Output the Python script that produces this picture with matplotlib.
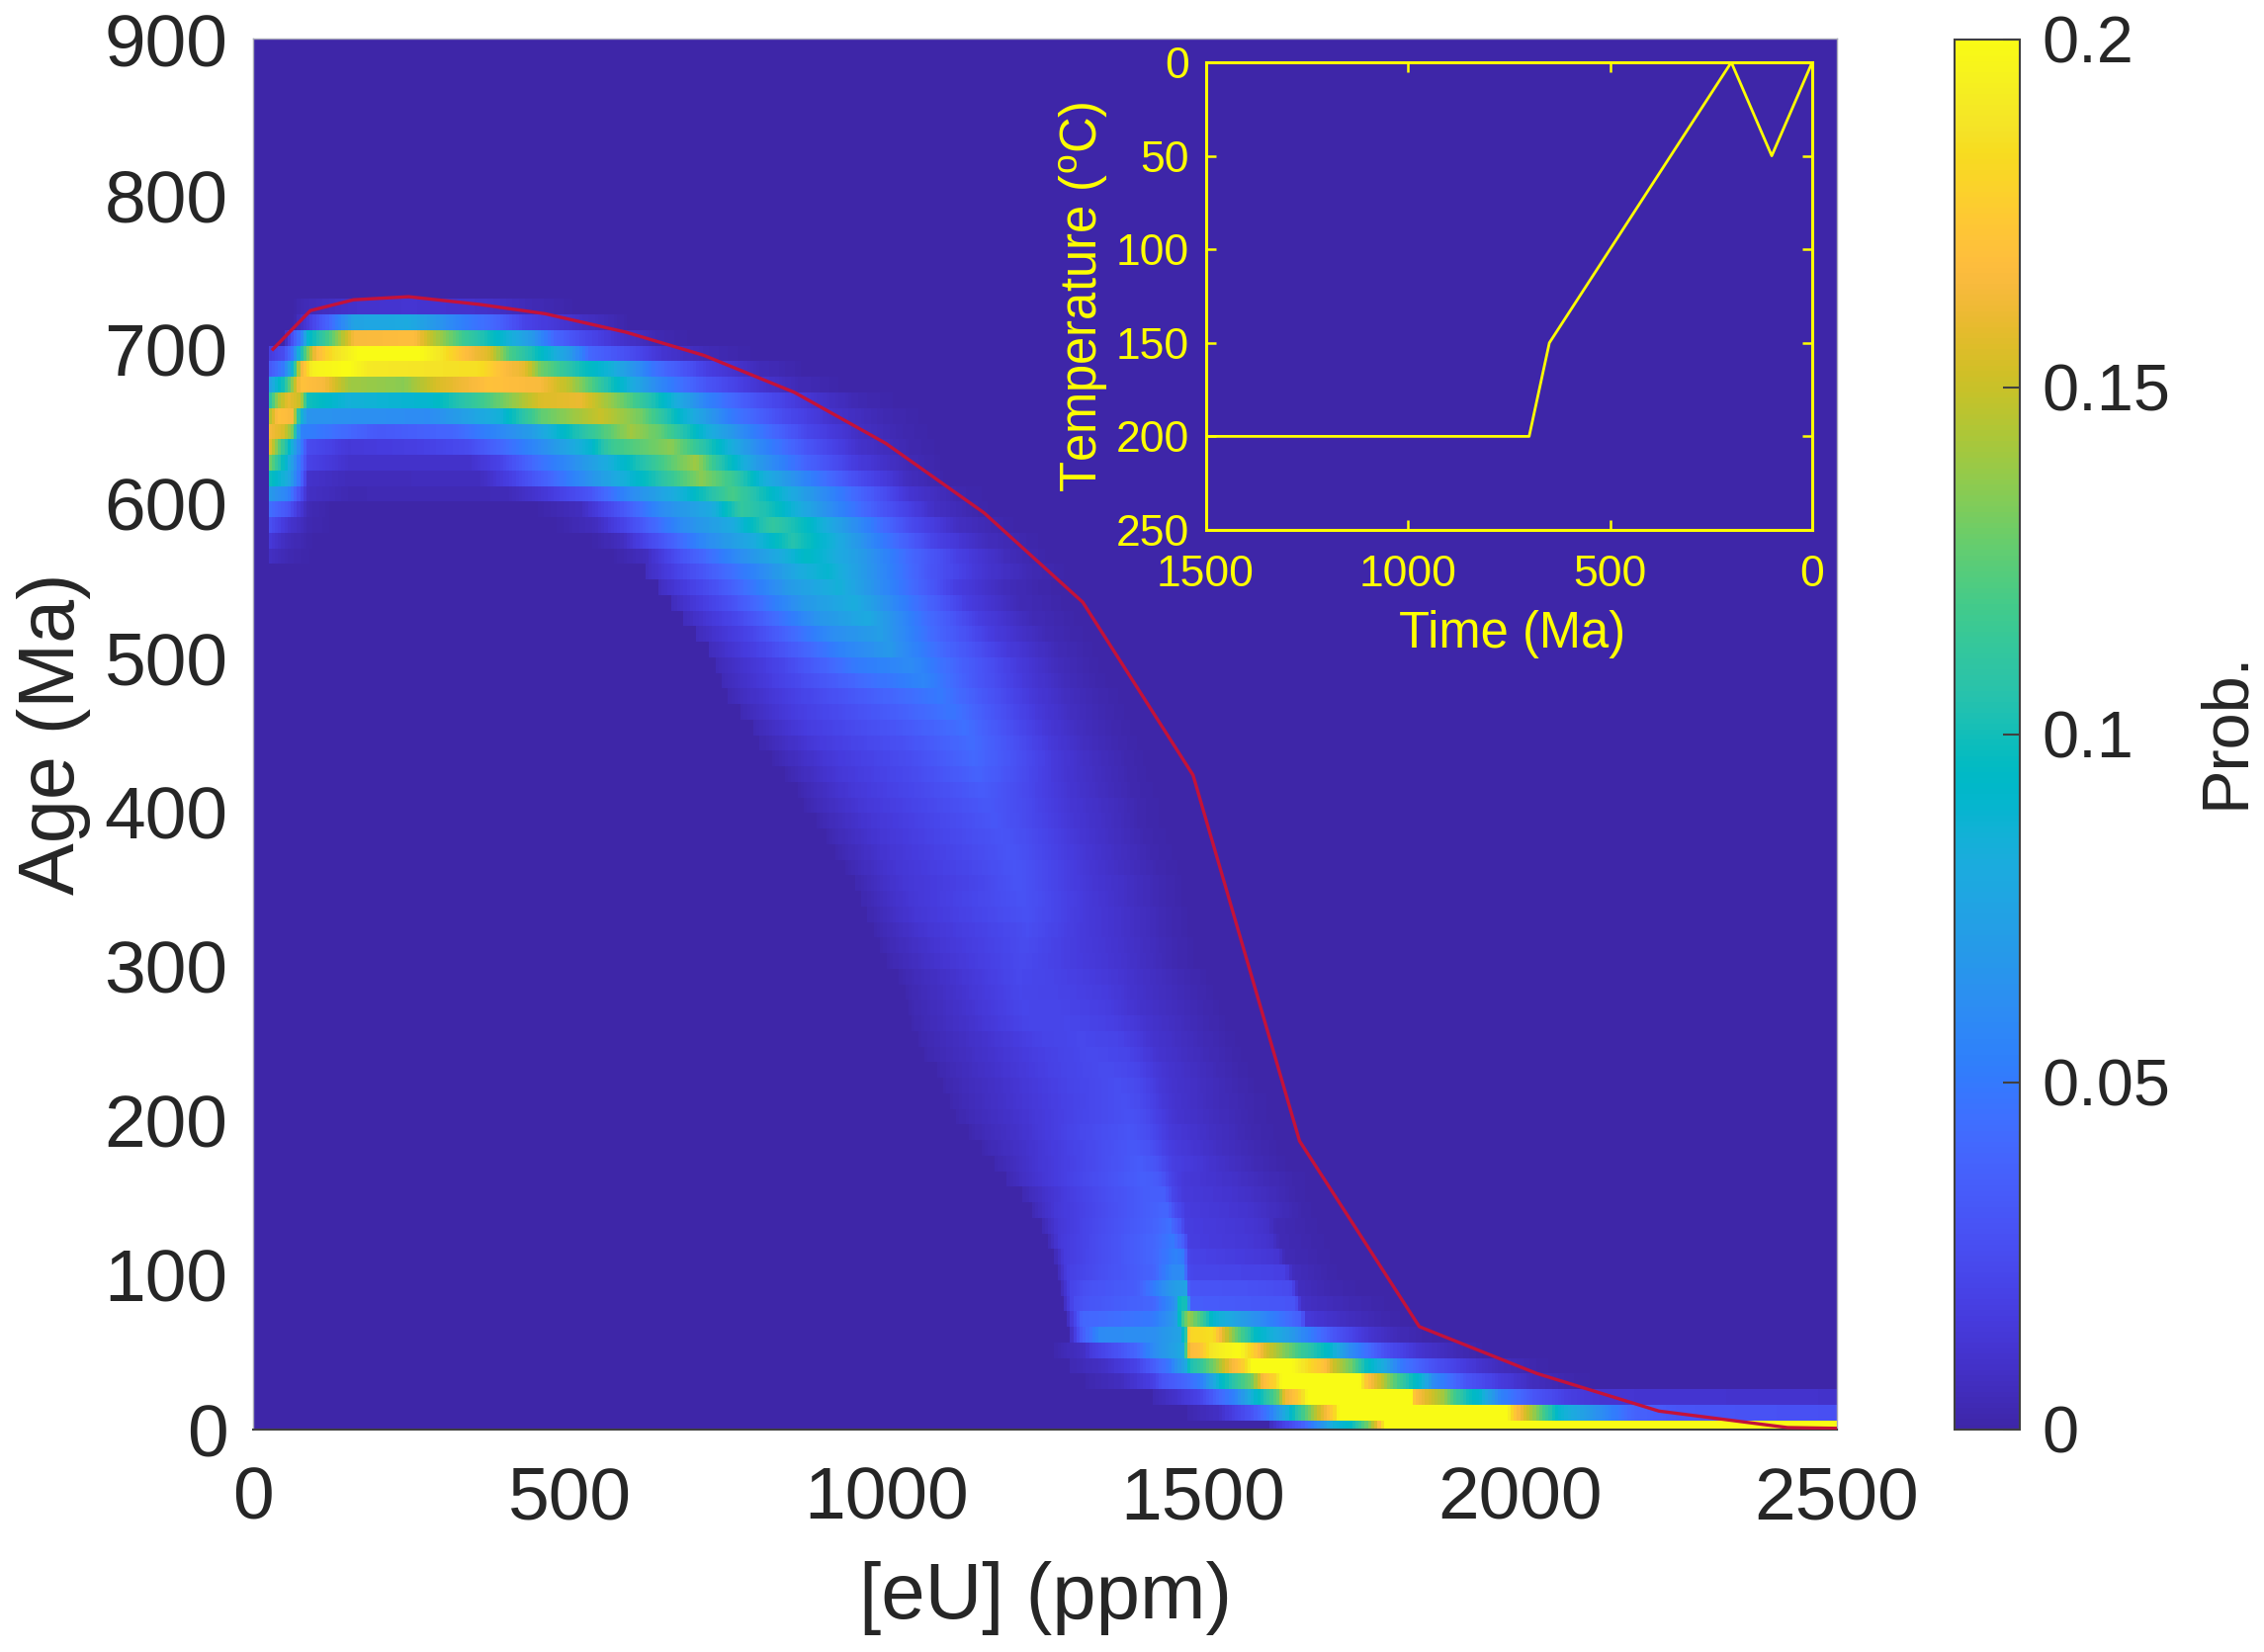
import numpy as np
import matplotlib
matplotlib.use("Agg")
import matplotlib.pyplot as plt
from matplotlib.colors import LinearSegmentedColormap

W, H = 2290, 1671
plt.rcParams['font.family'] = ['Liberation Sans', 'DejaVu Sans']
plt.rcParams['mathtext.fontset'] = 'custom'
plt.rcParams['mathtext.rm'] = 'Liberation Sans'
plt.rcParams['mathtext.default'] = 'regular'

parula = LinearSegmentedColormap.from_list('parula', [
 (0.2422,0.1504,0.6603),(0.2504,0.1650,0.7076),(0.2578,0.1818,0.7511),(0.2647,0.1978,0.7952),
 (0.2706,0.2147,0.8364),(0.2751,0.2342,0.8710),(0.2783,0.2559,0.8991),(0.2803,0.2782,0.9221),
 (0.2813,0.3006,0.9414),(0.2810,0.3228,0.9579),(0.2795,0.3447,0.9717),(0.2760,0.3667,0.9829),
 (0.2699,0.3892,0.9906),(0.2602,0.4123,0.9952),(0.2440,0.4358,0.9988),(0.2206,0.4603,0.9973),
 (0.1963,0.4847,0.9892),(0.1834,0.5074,0.9798),(0.1786,0.5289,0.9682),(0.1764,0.5499,0.9520),
 (0.1687,0.5703,0.9359),(0.1540,0.5902,0.9218),(0.1460,0.6091,0.9079),(0.1380,0.6276,0.8973),
 (0.1248,0.6459,0.8883),(0.1113,0.6635,0.8763),(0.0952,0.6798,0.8598),(0.0689,0.6948,0.8394),
 (0.0297,0.7082,0.8163),(0.0036,0.7203,0.7917),(0.0067,0.7312,0.7660),(0.0433,0.7411,0.7394),
 (0.0964,0.7500,0.7120),(0.1408,0.7584,0.6842),(0.1717,0.7670,0.6554),(0.1938,0.7758,0.6251),
 (0.2161,0.7843,0.5923),(0.2470,0.7918,0.5567),(0.2906,0.7973,0.5188),(0.3406,0.8008,0.4789),
 (0.3909,0.8029,0.4354),(0.4456,0.8024,0.3909),(0.5044,0.7993,0.3480),(0.5616,0.7942,0.3045),
 (0.6174,0.7876,0.2612),(0.6720,0.7793,0.2227),(0.7242,0.7698,0.1910),(0.7738,0.7598,0.1646),
 (0.8203,0.7498,0.1535),(0.8634,0.7406,0.1596),(0.9035,0.7330,0.1774),(0.9393,0.7288,0.2100),
 (0.9728,0.7298,0.2394),(0.9956,0.7434,0.2371),(0.9970,0.7659,0.2199),(0.9952,0.7861,0.1990),
 (0.9892,0.8134,0.1760),(0.9786,0.8386,0.1492),(0.9676,0.8639,0.1240),(0.9610,0.8890,0.1537),
 (0.9597,0.9135,0.1423),(0.9628,0.9373,0.1265),(0.9691,0.9606,0.1064),(0.9769,0.9839,0.0805)], N=256)

r000=[1603,.005,1655,.035,1707,.085,1733,.095,1759,.13,1775,.16,1790,.21,2500,.21]
r010=[1473,.002,1525,.008,1577,.03,1603,.05,1629,.08,1655,.115,1681,.15,1707,.18,1717,.21,1975,.21,1990,.175,2020,.14,2040,.115,2060,.09,2130,.06,2180,.038,2250,.03,2500,.027]
r020=[1421,.003,1457,.01,1494,.02,1525,.04,1551,.055,1577,.085,1603,.11,1619,.13,1629,.16,1650,.175,1660,.19,1668,.21,1826,.21,1833,.17,1863,.15,1879,.14,1895,.12,1916,.1,1937,.09,1969,.055,2022,.03,2075,.018,2127,.012,2500,.01]
r030=[1317,.002,1369,.006,1421,.018,1437,.03,1473,.04,1499,.055,1525,.09,1551,.11,1577,.13,1593,.165,1613,.18,1624,.2,1629,.21,1743,.21,1759,.17,1780,.15,1801,.125,1827,.1,1847,.085,1863,.06,1889,.045,1916,.03,1969,.016,2022,.006,2075,.002,2130,0]
r040=[1291,.003,1343,.008,1395,.02,1421,.035,1447,.05,1473,.08,1478,.1,1499,.115,1520,.135,1541,.16,1561,.175,1577,.2,1629,.21,1640,.2,1655,.19,1671,.18,1691,.17,1707,.15,1733,.13,1759,.095,1785,.08,1811,.05,1863,.028,1916,.015,1941,.01,1969,.006,2030,.001,2100,0]
r050=[1265,.002,1314,.008,1322,.015,1369,.03,1395,.04,1421,.06,1468,.08,1478,.165,1494,.17,1515,.19,1556,.2,1577,.18,1598,.155,1619,.14,1655,.115,1702,.09,1733,.06,1785,.028,1837,.012,1889,.005,1950,0]
r060=[1290,.006,1309,.035,1338,.06,1421,.062,1463,.075,1473,.11,1478,.18,1515,.185,1530,.16,1551,.13,1582,.095,1629,.075,1655,.06,1707,.03,1759,.012,1811,.004,1870,0]
r070=[1286,.005,1309,.04,1343,.042,1421,.05,1457,.07,1468,.12,1478,.14,1499,.115,1515,.09,1577,.065,1629,.045,1655,.035,1662,.014,1733,.006,1785,.002,1830,0]
r080=[1280,.005,1296,.025,1317,.03,1421,.04,1457,.065,1463,.1,1473,.1,1481,.035,1577,.032,1645,.03,1655,.008,1733,.003,1800,0]
r090=[1275,.004,1291,.02,1317,.028,1395,.035,1452,.07,1473,.075,1478,.03,1577,.028,1639,.024,1650,.006,1707,.002,1760,0]
r100=[1270,.004,1286,.018,1343,.027,1421,.038,1452,.06,1468,.06,1478,.022,1577,.02,1629,.018,1640,.006,1700,.001,1750,0]
r110=[1265,.003,1281,.016,1343,.026,1421,.04,1457,.055,1468,.05,1478,.02,1577,.015,1619,.012,1629,.004,1690,.001,1740,0]
r120=[1255,.003,1275,.015,1343,.026,1421,.04,1452,.05,1468,.035,1478,.017,1577,.013,1608,.01,1619,.004,1680,.001,1730,0]
r130=[1245,.003,1270,.013,1338,.025,1421,.038,1447,.045,1463,.03,1473,.017,1577,.012,1603,.009,1614,.004,1670,.001,1720,0]
r140=[1230,.003,1265,.013,1338,.024,1421,.037,1442,.04,1457,.025,1473,.016,1570,.011,1598,.008,1660,.001,1710,0]
r150=[1215,.003,1260,.012,1333,.024,1411,.035,1437,.036,1452,.022,1468,.015,1560,.01,1590,.007,1650,.001,1700,0]
r160=[1190,.003,1240,.012,1320,.024,1405,.036,1430,.033,1450,.02,1470,.014,1550,.009,1590,.005,1650,.001,1690,0]
r170=[1170,.002,1230,.011,1320,.023,1400,.034,1425,.03,1450,.018,1520,.01,1580,.004,1640,0]
r180=[1150,.002,1220,.01,1310,.022,1390,.032,1415,.028,1450,.016,1520,.008,1580,.003,1630,0]
r190=[1130,.002,1210,.01,1300,.022,1385,.03,1410,.026,1450,.014,1520,.007,1580,.002,1630,0]
r200=[1110,.002,1200,.01,1300,.021,1385,.028,1410,.024,1450,.012,1520,.006,1590,.001,1630,0]
r210=[1100,.002,1190,.01,1290,.02,1375,.027,1400,.024,1445,.012,1520,.005,1590,.001,1630,0]
r220=[1090,.002,1185,.01,1280,.02,1365,.026,1395,.024,1440,.012,1520,.005,1590,0]
r230=[1080,.002,1170,.01,1270,.02,1350,.025,1390,.022,1435,.012,1520,.004,1580,0]
r240=[1060,.002,1160,.01,1250,.019,1325,.024,1380,.021,1430,.011,1510,.004,1570,0]
r250=[1050,.002,1150,.01,1240,.02,1310,.023,1370,.02,1420,.011,1500,.004,1560,0]
r260=[1040,.002,1130,.01,1220,.021,1290,.022,1360,.018,1410,.011,1500,.003,1550,0]
r270=[1035,.002,1120,.01,1215,.022,1280,.021,1350,.017,1400,.01,1490,.003,1540,0]
r280=[1030,.002,1110,.01,1210,.022,1280,.02,1345,.016,1395,.01,1480,.003,1530,0]
r290=[1020,.002,1100,.01,1210,.023,1270,.02,1340,.015,1390,.01,1470,.003,1520,0]
r310=[1000,.002,1085,.011,1215,.024,1270,.019,1330,.014,1380,.01,1450,.003,1500,0]
r320=[990,.002,1080,.012,1220,.025,1270,.019,1325,.014,1375,.01,1450,.003,1500,0]
r330=[980,.002,1060,.012,1225,.026,1270,.02,1320,.014,1370,.01,1440,.003,1490,0]
r340=[970,.002,1040,.012,1220,.028,1270,.021,1320,.014,1370,.01,1440,.003,1490,0]
r350=[960,.002,1030,.012,1215,.029,1265,.022,1320,.014,1370,.009,1430,.003,1480,0]
r360=[950,.002,1020,.012,1140,.021,1210,.03,1260,.022,1320,.013,1370,.009,1430,.003,1480,0]
r370=[935,.002,1010,.012,1130,.022,1205,.03,1260,.022,1315,.013,1365,.008,1430,.002,1480,0]
r380=[920,.002,1000,.012,1125,.023,1195,.03,1250,.022,1310,.013,1360,.008,1420,.002,1470,0]
r390=[905,.002,985,.012,1115,.024,1185,.03,1240,.023,1300,.013,1350,.008,1410,.002,1460,0]
r400=[890,.002,970,.012,1100,.024,1170,.031,1230,.023,1290,.013,1345,.008,1400,.002,1450,0]
r410=[870,.002,960,.013,1080,.024,1160,.032,1220,.024,1285,.013,1340,.008,1400,.002,1450,0]
r420=[860,.002,950,.014,1070,.025,1150,.034,1210,.025,1280,.013,1335,.007,1390,.002,1440,0]
r430=[840,.002,930,.014,1050,.025,1145,.038,1200,.028,1275,.013,1330,.007,1385,.002,1430,0]
r440=[820,.002,920,.015,1040,.026,1140,.041,1195,.03,1270,.014,1325,.007,1380,.002,1420,0]
r450=[800,.002,900,.016,1030,.028,1135,.043,1190,.03,1260,.014,1320,.006,1370,.002,1410,0]
r460=[790,.003,880,.017,1010,.03,1125,.045,1180,.03,1250,.014,1310,.006,1360,.002,1400,0]
r470=[770,.003,860,.017,990,.032,1105,.048,1170,.03,1240,.014,1300,.006,1350,.002,1390,0]
r480=[750,.003,850,.018,980,.036,1085,.05,1160,.03,1230,.014,1290,.006,1340,.002,1380,0]
r490=[740,.004,840,.02,960,.042,1060,.057,1140,.032,1220,.014,1285,.005,1335,.001,1370,0]
r500=[730,.004,830,.02,950,.05,1040,.06,1125,.035,1210,.015,1275,.005,1330,.001,1360,0]
r510=[720,.005,810,.022,930,.055,1005,.068,1100,.038,1190,.015,1270,.004,1320,.001,1350,0]
r520=[700,.005,790,.022,910,.06,990,.072,1080,.04,1170,.015,1250,.004,1300,.001,1340,0]
r530=[680,.005,770,.024,890,.065,970,.08,1060,.045,1150,.016,1230,.004,1290,.001,1320,0]
r540=[660,.005,750,.026,870,.068,950,.082,1040,.048,1130,.016,1210,.004,1270,.001,1300,0]
r550=[640,.006,730,.028,850,.07,925,.085,1020,.05,1110,.017,1190,.005,1250,.001,1290,0]
r560=[620,.006,700,.028,790,.055,860,.08,907,.09,990,.06,1070,.03,1150,.012,1230,.003,1300,0]
r570=[24,.008,56,.003,100,0,560,0,620,.006,680,.03,760,.058,830,.08,875,.095,960,.07,1040,.04,1114,.018,1190,.005,1260,0]
r580=[24,.015,56,.005,100,0,530,0,581,.006,645,.03,716,.06,788,.08,852,.105,915,.085,995,.05,1075,.02,1154,.006,1230,.001,1280,0]
r590=[24,.028,56,.012,87,.003,130,0,470,0,541,.006,597,.025,677,.06,756,.08,820,.112,875,.095,955,.06,1035,.025,1114,.007,1190,.001,1240,0]
r600=[24,.045,56,.03,72,.015,87,.004,130,0,440,0,517,.006,581,.03,645,.06,724,.08,772,.112,820,.1,915,.06,995,.03,1075,.008,1150,.001,1200,0]
r610=[24,.07,56,.055,72,.03,87,.008,151,.003,400,.004,454,.012,533,.03,597,.06,677,.085,756,.12,804,.1,875,.07,955,.04,1035,.012,1114,.002,1170,0]
r620=[24,.1,56,.08,72,.05,87,.01,151,.005,358,.006,406,.018,470,.04,533,.065,629,.1,708,.135,756,.115,804,.085,875,.055,955,.025,1035,.006,1100,0]
r630=[24,.135,40,.11,64,.07,87,.02,151,.01,342,.01,390,.02,438,.04,501,.06,581,.09,660,.125,700,.14,732,.11,796,.07,875,.038,955,.015,1035,.004,1100,0]
r640=[24,.165,40,.13,64,.08,87,.025,151,.014,263,.018,342,.025,390,.04,454,.06,533,.09,565,.115,660,.135,724,.1,796,.06,875,.03,955,.01,1040,.002,1100,0]
r650=[24,.165,48,.155,64,.13,75,.055,199,.032,318,.04,438,.07,517,.105,597,.14,645,.125,716,.085,796,.05,875,.022,955,.008,1030,.002,1090,0]
r660=[24,.14,40,.17,64,.165,75,.09,87,.065,278,.06,390,.085,454,.125,549,.15,613,.13,677,.09,756,.05,836,.025,915,.01,995,.003,1070,0]
r670=[24,.1,40,.14,56,.16,75,.15,87,.1,151,.085,278,.09,358,.115,454,.155,517,.16,581,.13,637,.1,716,.055,796,.028,875,.012,955,.003,1030,0]
r680=[24,.07,48,.1,64,.14,75,.17,111,.165,151,.14,239,.135,294,.155,374,.17,454,.165,501,.145,565,.1,637,.06,716,.03,796,.012,860,.004,940,0]
r690=[24,.03,48,.05,64,.09,75,.16,95,.195,151,.2,183,.19,358,.185,390,.17,430,.158,454,.13,517,.1,565,.085,637,.045,716,.018,796,.005,880,0]
r700=[24,.015,48,.025,64,.05,79,.11,99,.165,127,.185,167,.2,262,.2,294,.19,342,.165,374,.155,406,.12,454,.095,501,.07,533,.04,597,.025,645,.012,716,.004,800,0]
r710=[48,0,75,.05,87,.09,120,.12,160,.165,255,.168,278,.15,334,.115,382,.095,438,.07,477,.04,517,.025,573,.012,637,.003,700,0]
r720=[64,0,87,.015,120,.04,160,.075,246,.08,280,.07,340,.05,382,.04,430,.02,520,.008,600,0]
r730=[60,0,80,.004,160,.01,246,.012,360,.01,440,.004,520,0]

rows = [r000,r010,r020,r030,r040,r050,r060,r070,r080,r090,r100,r110,r120,r130,r140,r150,r160,r170,r180,
        r190,r200,r210,r220,r230,r240,r250,r260,r270,r280,r290,r310,r320,r330,r340,r350,r360,r370,
        r380,r390,r400,r410,r420,r430,r440,r450,r460,r470,r480,r490,r500,r510,r520,r530,r540,r550,r560,
        r570,r580,r590,r600,r610,r620,r630,r640,r650,r660,r670,r680,r690,r700,r710,r720,r730]

eu_edges = np.arange(25, 2501, 5)
eu_mid = (eu_edges[:-1] + eu_edges[1:]) / 2
age_edges = np.arange(len(rows) + 1) * 10.09 - 4.09
Z = np.array([np.interp(eu_mid, r[0::2], r[1::2], left=0, right=0) for r in rows])

# red line
curve_eu  = [32, 91, 159, 246, 358, 461, 589, 712, 855, 999, 1154, 1310, 1484, 1652, 1841, 2026, 2219, 2422, 2500]
curve_age = [700, 725, 732, 734, 729, 723, 711, 696, 672, 639, 594, 536, 424, 187, 66.7, 36.4, 12, 1.3, 0.8]

# inset thermal history
time_ma = [1500, 700, 650, 200, 100, 0]
temp_c  = [200, 200, 150, 0, 50, 0]

main_xticks = [0, 500, 1000, 1500, 2000, 2500]
main_yticks = [0, 100, 200, 300, 400, 500, 600, 700, 800, 900]
cbar_ticks  = [0, 0.05, 0.1, 0.15, 0.2]
cbar_labels = ['0', '0.05', '0.1', '0.15', '0.2']
ins_xticks  = [1500, 1000, 500, 0]
ins_yticks  = [0, 50, 100, 150, 200, 250]

def box(l, t, r, b):
    return [l / W, 1 - b / H, (r - l) / W, (b - t) / H]

fig = plt.figure(figsize=(W / 100, H / 100), dpi=100, facecolor='white')
TXT = '#262626'

ax = fig.add_axes(box(255.6, 39.4, 1858, 1446))
ax.set_facecolor(parula(0))
mesh = ax.pcolormesh(eu_edges, age_edges, Z, cmap=parula, vmin=0, vmax=0.2, shading='flat')
ax.plot(curve_eu, curve_age, color='#c41239', lw=2.4, zorder=3, solid_joinstyle='round')
ax.set_xlim(0, 2500)
ax.set_ylim(0, 901)
ax.set_xticks(main_xticks)
ax.set_yticks(main_yticks)
ax.tick_params(axis='x', length=0, pad=26.5, labelsize=54, labelcolor=TXT)
ax.tick_params(axis='y', length=0, pad=18, labelsize=54, labelcolor=TXT)
for s in ax.spines.values():
    s.set_color('#a8a8b8'); s.set_linewidth(1)
ax.spines['bottom'].set_color('#404040'); ax.spines['bottom'].set_linewidth(1.5)
fig.text(1058 / W, 1 - 1617 / H, '[eU] (ppm)', fontsize=57.5, color=TXT, ha='center', va='center')
fig.text(55 / W, 1 - 742 / H, 'Age (Ma)', fontsize=57, color=TXT, rotation=90, ha='center', va='center')

# inset
ins = fig.add_axes(box(1219.5, 63, 1833, 536))
ins.set_facecolor(parula(0))
ins.plot(time_ma, temp_c, color='#ffff00', lw=2.0)
ins.set_xlim(1500, 0)
ins.set_ylim(250, 0)
ins.set_xticks(ins_xticks)
ins.set_yticks(ins_yticks)
ins.tick_params(axis='both', which='major', direction='in', length=7, width=1.8, color='#ffff00',
                top=True, right=True, labelsize=32, labelcolor='#ffff00')
ins.tick_params(axis='x', pad=18)
ins.tick_params(axis='y', pad=12)
for s in ins.spines.values():
    s.set_color('#ffff00'); s.set_linewidth(2.2)
fig.text(1530 / W, 1 - 641 / H, 'Time (Ma)', fontsize=36.5, color='#ffff00', ha='center', va='center')
fig.text(1096 / W, 1 - 300 / H, r'Temperature ($^{o}$C)', fontsize=36.5, color='#ffff00', rotation=90,
         ha='center', va='center')

# colourbar
cax = fig.add_axes(box(1977, 40, 2043, 1446))
cb = fig.colorbar(mesh, cax=cax)
cb.set_ticks(cbar_ticks, labels=cbar_labels)
cax.tick_params(axis='y', direction='in', length=12, width=1.5, color='#404040', labelsize=48,
                labelcolor=TXT, pad=16)
cb.outline.set_edgecolor('#404040'); cb.outline.set_linewidth(1.5)
fig.text(2252 / W, 1 - 738 / H, 'Prob.', fontsize=48, color=TXT, rotation=90, ha='center', va='center')

fig.savefig('out.png', dpi=100, facecolor='white')
